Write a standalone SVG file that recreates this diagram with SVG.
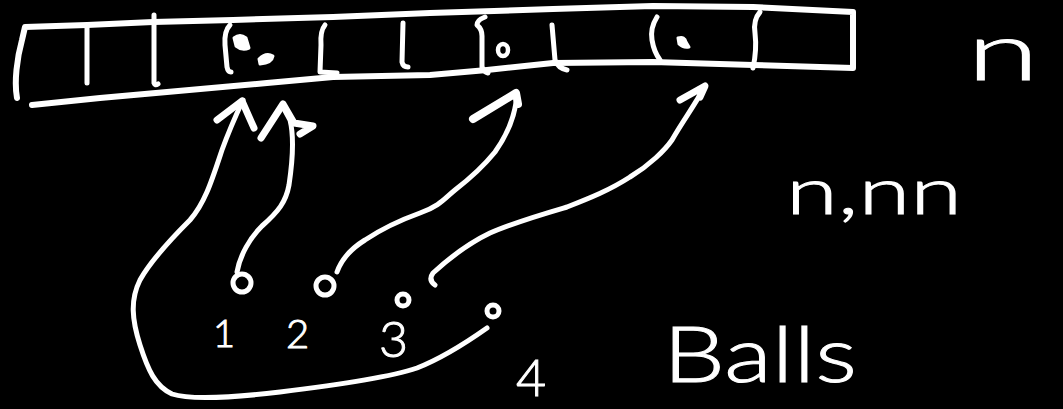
<svg xmlns="http://www.w3.org/2000/svg" width="1063" height="409" viewBox="0 0 1063 409">
  <style>
    .ink { fill: none; stroke: #ffffff; stroke-linecap: round; stroke-linejoin: round; }
    .box { stroke-width: 6; }
    .div { stroke-width: 5; }
    .arr { stroke-width: 5; }
    .head { stroke-width: 7; }
    .ball { fill: none; stroke: #ffffff; stroke-width: 5; }
    .dot { fill: #ffffff; stroke: #ffffff; stroke-width: 3; stroke-linejoin: round; }
    .hand { fill: #ffffff; stroke: #ffffff; stroke-width: 1; font-family: "Lato", "Liberation Sans", "DejaVu Sans", sans-serif; font-weight: 300; }
  </style>
  <rect width="1063" height="409" fill="#000000"/>

  <g id="array">
    <path class="ink box" d="M17,98 C14,82 17,58 22,40 L25,27 L87,25 L153,22 L233,20 L333,17 L430,13 L553,9 L653,6 L753,7 L853,12 L853,68 L753,65 L653,62 L553,63 L487,70 L430,75 L333,77 L267,83 L167,92 L100,98 L32,105"/>
    <path class="ink div" d="M87,25 L87,83"/>
    <path class="ink div" d="M154,15 L154,83 Q155,86 158,84"/>
    <path class="ink div" d="M230,25 Q224,31 225,45 L227,67 Q228,72 231,72"/>
    <path class="ink div" d="M325,25 Q320,31 321,45 L320,72 L337,73"/>
    <path class="ink div" d="M403,23 L402,62 Q403,67 408,67"/>
    <path class="ink div" d="M485,17 Q477,20 477,25 Q482,29 482,36 L482,67 Q484,72 488,73"/>
    <path class="ink div" d="M552,25 L555,60 Q558,68 567,70"/>
    <path class="ink div" d="M657,17 Q650,28 652,40 Q654,52 660,60"/>
    <path class="ink div" d="M760,12 Q753,20 755,33 Q757,50 753,68"/>
    <path class="dot" d="M234,38 Q240,33 246,38 L249,48 Q242,51 236,46 Z"/>
    <path class="dot" d="M259,59 Q266,52 273,56 Q272,63 260,64 Z"/>
    <ellipse class="ink" stroke-width="4.5" cx="503" cy="50" rx="5" ry="6"/>
    <path class="dot" d="M678,38 Q685,36 686,42 L689,47 Q683,48 679,44 Z"/>
  </g>

  <g id="ball-1"><circle class="ball" cx="242" cy="283" r="9"/></g>
  <g id="ball-2"><circle class="ball" cx="325" cy="286" r="9"/></g>
  <g id="ball-3"><circle class="ball" cx="403" cy="300" r="6"/></g>
  <g id="ball-4"><circle class="ball" cx="493" cy="311" r="6"/></g>

  <g id="connectors">
    <path class="ink arr" d="M487,328 C470,340 445,357 417,368 C390,377 330,386 280,392 C230,398 190,400 172,394 C155,386 148,370 140,345 C132,320 130,300 140,280 C150,262 170,240 190,220 C205,203 212,180 222,150 C230,128 236,115 243,100"/>
    <path class="ink head" d="M217,120 L242,101 L254,128"/>
    <path class="ink arr" d="M237,272 C240,255 250,238 262,226 C278,212 286,202 289,185 C292,165 295,140 290,120 L283,107"/>
    <path class="ink head" d="M261,138 L283,104 L294,123 L313,126 L300,134"/>
    <path class="ink arr" d="M337,272 C342,258 352,248 365,240 C380,230 395,222 420,213 C440,206 445,198 455,190 C468,180 482,168 495,152 C505,138 515,118 517,95"/>
    <path class="ink" stroke-width="8" d="M473,119 L516,93 L518,104"/>
    <path class="ink arr" d="M435,285 Q428,280 433,273 C445,262 465,245 490,233 C515,222 550,212 567,207 C590,198 610,190 630,177 C650,165 665,150 672,140 C682,122 695,105 705,86"/>
    <path class="ink head" d="M680,100 L705,86 L700,97"/>
  </g>

  <g id="labels">
    <text class="hand" x="967" y="80" font-size="80" textLength="72" lengthAdjust="spacingAndGlyphs">n</text>
    <text class="hand" x="786" y="214" font-size="66" textLength="176" lengthAdjust="spacingAndGlyphs">n,nn</text>
    <text class="hand" x="663" y="382" font-size="76" textLength="194" lengthAdjust="spacingAndGlyphs">Balls</text>
    <text class="hand" x="213" y="347" font-size="38">1</text>
    <text class="hand" x="286" y="348" font-size="40">2</text>
    <text class="hand" x="379" y="357" font-size="50">3</text>
    <text class="hand" x="516" y="396" font-size="52">4</text>
  </g>
</svg>
